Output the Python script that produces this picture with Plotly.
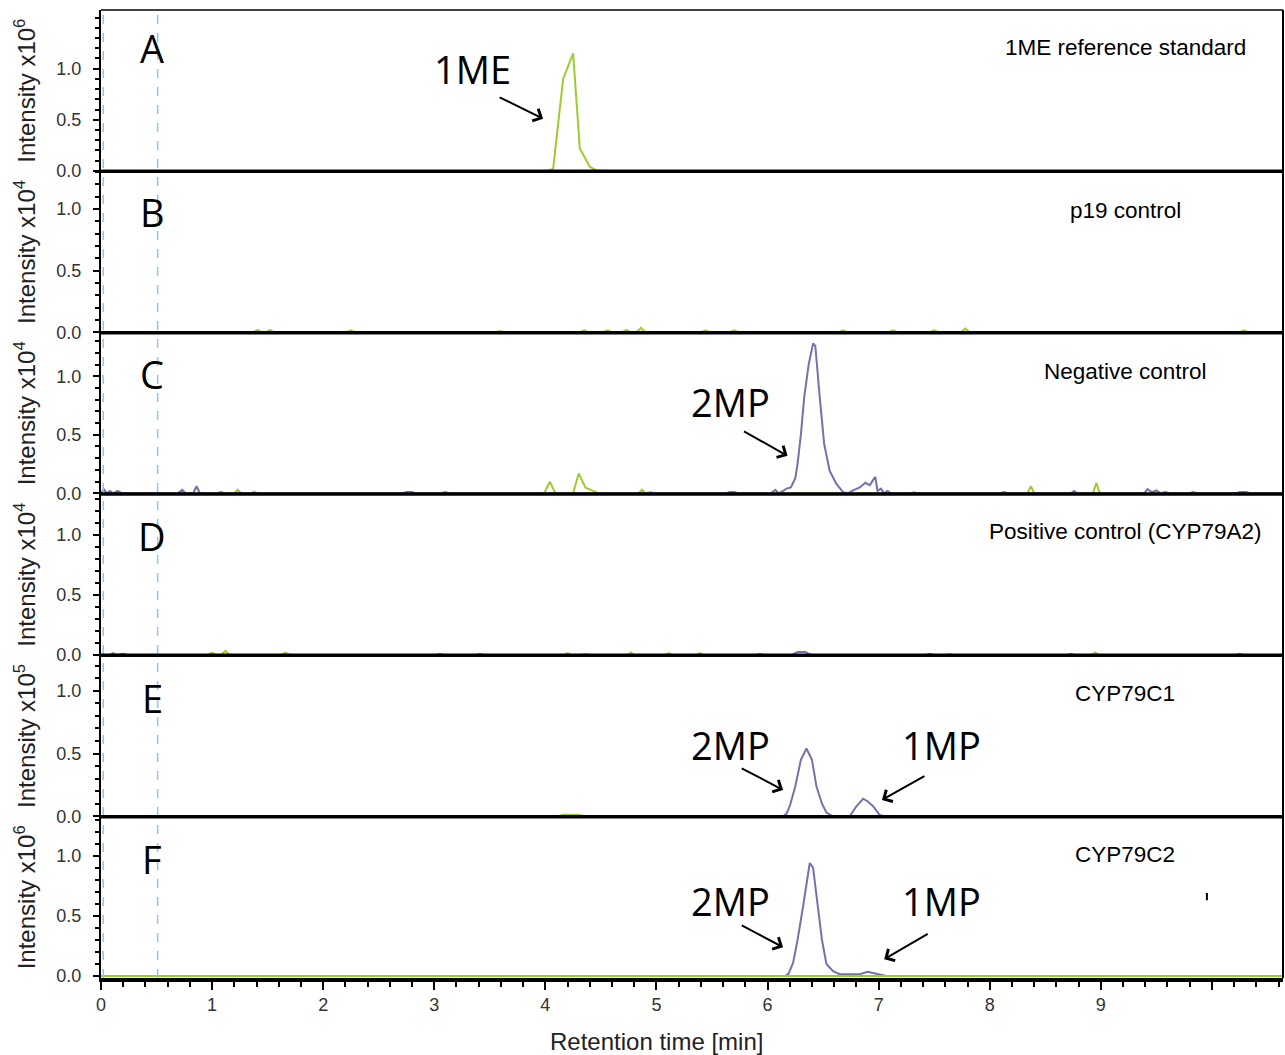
import plotly.graph_objects as go

X_MAX = 10.64
GREEN = "#9dcc2e"
BLUE = "#7272ae"

# ---- data (retention time [min], scaled intensity) ----
A_green = [(0, 0), (4.02, 0), (4.07, 0.02), (4.16, 0.90), (4.25, 1.15), (4.31, 0.22),
           (4.40, 0.04), (4.46, 0.005), (4.56, 0), (10.64, 0)]

B_green = [(0, 0), (1.37, 0), (1.41, 0.02), (1.45, 0), (1.49, 0), (1.52, 0.02), (1.56, 0),
           (2.21, 0), (2.25, 0.015), (2.29, 0), (3.55, 0), (3.59, 0.01), (3.63, 0),
           (4.31, 0), (4.35, 0.015), (4.39, 0), (4.52, 0), (4.56, 0.015), (4.60, 0),
           (4.69, 0), (4.73, 0.02), (4.77, 0), (4.82, 0), (4.86, 0.035), (4.90, 0),
           (5.40, 0), (5.44, 0.015), (5.48, 0), (5.66, 0), (5.70, 0.015), (5.74, 0),
           (6.64, 0), (6.68, 0.015), (6.72, 0), (7.09, 0), (7.13, 0.015), (7.17, 0),
           (7.46, 0), (7.50, 0.015), (7.54, 0), (7.74, 0), (7.78, 0.03), (7.82, 0),
           (10.25, 0), (10.29, 0.015), (10.33, 0), (10.64, 0)]

C_blue = [(0, 0), (0.03, 0.03), (0.05, 0), (0.08, 0.02), (0.11, 0), (0.15, 0.02), (0.19, 0),
          (0.70, 0), (0.73, 0.03), (0.76, 0), (0.83, 0), (0.86, 0.06), (0.89, 0),
          (1.05, 0), (1.08, 0.01), (1.11, 0),
          (2.72, 0), (2.75, 0.012), (2.80, 0.012), (2.83, 0),
          (3.07, 0), (3.10, 0.01), (3.13, 0),
          (5.63, 0), (5.66, 0.012), (5.70, 0.012), (5.73, 0),
          (6.03, 0), (6.07, 0.03), (6.10, 0), (6.14, 0.02), (6.17, 0.04), (6.21, 0.05),
          (6.25, 0.13), (6.27, 0.25), (6.30, 0.50), (6.33, 0.82), (6.37, 1.10), (6.41, 1.28),
          (6.43, 1.26), (6.47, 0.82), (6.51, 0.42), (6.56, 0.19), (6.62, 0.08), (6.68, 0.01),
          (6.72, 0), (6.78, 0.03), (6.83, 0.05), (6.88, 0.09), (6.92, 0.07), (6.97, 0.14),
          (6.99, 0.02), (7.02, 0.04), (7.05, 0), (7.08, 0.02), (7.11, 0),
          (8.10, 0), (8.13, 0.01), (8.16, 0), (8.73, 0), (8.76, 0.02), (8.79, 0),
          (9.39, 0), (9.42, 0.035), (9.46, 0.01), (9.50, 0.025), (9.54, 0), (9.58, 0.01), (9.62, 0),
          (9.80, 0), (9.83, 0.01), (9.86, 0),
          (10.22, 0), (10.25, 0.012), (10.31, 0.012), (10.34, 0), (10.64, 0)]

C_green = [(0, 0), (0.02, 0.03), (0.05, 0), (0.68, 0), (0.71, 0.015), (0.74, 0),
           (1.20, 0), (1.23, 0.03), (1.26, 0), (1.35, 0), (1.38, 0.015), (1.41, 0),
           (3.99, 0), (4.04, 0.10), (4.09, 0), (4.25, 0), (4.30, 0.17), (4.36, 0.05),
           (4.43, 0.02), (4.48, 0), (4.84, 0), (4.87, 0.03), (4.90, 0), (4.95, 0.01), (4.98, 0),
           (7.29, 0), (7.32, 0.01), (7.35, 0), (8.34, 0), (8.37, 0.06), (8.40, 0),
           (8.93, 0), (8.96, 0.09), (8.99, 0), (10.64, 0)]

D_blue = [(0, 0), (0.08, 0), (0.11, 0.015), (0.14, 0), (0.20, 0.01), (0.23, 0),
          (3.02, 0), (3.05, 0.01), (3.08, 0), (3.38, 0), (3.41, 0.01), (3.44, 0),
          (5.90, 0), (5.93, 0.01), (5.96, 0), (6.22, 0), (6.27, 0.025), (6.34, 0.025), (6.39, 0),
          (7.43, 0), (7.46, 0.01), (7.49, 0), (8.70, 0), (8.73, 0.01), (8.76, 0),
          (10.22, 0), (10.25, 0.01), (10.28, 0), (10.64, 0)]

D_green = [(0, 0), (0.96, 0), (1.00, 0.02), (1.04, 0), (1.08, 0), (1.12, 0.035), (1.16, 0),
           (1.62, 0), (1.66, 0.02), (1.70, 0), (4.17, 0), (4.20, 0.015), (4.23, 0),
           (4.33, 0), (4.36, 0.01), (4.39, 0), (4.74, 0), (4.77, 0.02), (4.80, 0),
           (5.08, 0), (5.11, 0.015), (5.14, 0), (5.36, 0), (5.39, 0.015), (5.42, 0),
           (7.61, 0), (7.64, 0.01), (7.67, 0), (8.92, 0), (8.95, 0.02), (8.98, 0), (10.64, 0)]

E_green = [(0, 0), (4.12, 0), (4.16, 0.012), (4.30, 0.012), (4.34, 0), (10.64, 0)]

E_blue = [(0, 0), (6.14, 0), (6.17, 0.02), (6.20, 0.08), (6.25, 0.24), (6.30, 0.45),
          (6.35, 0.54), (6.40, 0.45), (6.44, 0.24), (6.49, 0.10), (6.53, 0.03), (6.59, 0),
          (6.74, 0), (6.80, 0.08), (6.86, 0.14), (6.90, 0.12), (6.95, 0.08), (7.01, 0.01),
          (7.05, 0), (10.64, 0)]

F_blue = [(6.16, 0), (6.19, 0.02), (6.23, 0.11), (6.27, 0.30), (6.32, 0.58), (6.38, 0.94),
          (6.41, 0.90), (6.45, 0.58), (6.49, 0.30), (6.53, 0.10), (6.59, 0.04), (6.65, 0.015),
          (6.83, 0.015), (6.90, 0.035), (6.95, 0.025), (7.01, 0.01), (7.07, 0)]

F_green = [(0, 0), (10.64, 0)]

panel_letters = ["A", "B", "C", "D", "E", "F"]
panel_titles = ["1ME reference standard", "p19 control", "Negative control",
                "Positive control (CYP79A2)", "CYP79C1", "CYP79C2"]
exponents = ["6", "4", "4", "4", "5", "6"]
y_ranges = [(-0.004, 1.574), (-0.003, 1.306), (-0.006, 1.373),
            (-0.003, 1.342), (-0.003, 1.283), (-0.016, 1.325)]
letter_y = [1.20, 0.98, 1.02, 0.99, 0.94, 0.97]
title_y = [1.21, 0.99, 1.04, 1.03, 0.98, 1.01]
y_tick_vals = [0, 0.5, 1.0]
y_tick_text = ["0.0", "0.5", "1.0"]
x_tick_vals = [0, 1, 2, 3, 4, 5, 6, 7, 8, 9, 10]
x_tick_text = ["0", "1", "2", "3", "4", "5", "6", "7", "8", "9", ""]

panel_traces = [
    [(A_green, GREEN)],
    [(B_green, GREEN)],
    [(C_green, GREEN), (C_blue, BLUE)],
    [(D_green, GREEN), (D_blue, BLUE)],
    [(E_green, GREEN), (E_blue, BLUE)],
    [(F_blue, BLUE), (F_green, GREEN)],
]

# compound labels: (panel index, text, x, y)
compound_labels = [(0, "1ME", 3.34, 1.00), (2, "2MP", 5.67, 0.78),
                   (4, "2MP", 5.67, 0.57), (4, "1MP", 7.57, 0.57),
                   (5, "2MP", 5.67, 0.62), (5, "1MP", 7.57, 0.62)]
# arrows: (panel index, head x, head y, tail x, tail y)  all in data units
arrows = [(0, 3.98, 0.51, 3.57, 0.73), (2, 6.18, 0.32, 5.77, 0.54),
          (4, 6.14, 0.21, 5.75, 0.39), (4, 7.03, 0.13, 7.43, 0.33),
          (5, 6.14, 0.24, 5.75, 0.43), (5, 7.05, 0.14, 7.46, 0.36)]
dashed_x = [0.02, 0.51]

fig = go.Figure()
n = 6
layout = {}
annotations = []
for i in range(n):
    suf = "" if i == 0 else str(i + 1)
    for data, color in panel_traces[i]:
        xs = [p[0] for p in data]
        ys = [p[1] for p in data]
        fig.add_trace(go.Scatter(x=xs, y=ys, mode="lines", xaxis="x" + suf, yaxis="y" + suf,
                                 line=dict(color=color, width=2), showlegend=False,
                                 hoverinfo="skip"))
    last = (i == n - 1)
    xa = dict(domain=[0, 1], anchor="y" + suf, range=[0, X_MAX], showgrid=False,
              zeroline=False, showline=last, linewidth=3.5, linecolor="black",
              showticklabels=last, ticks="outside" if last else "")
    if i > 0:
        xa["matches"] = "x"
    if last:
        xa.update(tickmode="array", tickvals=x_tick_vals, ticktext=x_tick_text,
                  ticklen=8, tickwidth=2, tickcolor="black",
                  tickfont=dict(family="Liberation Sans, Arial", size=18, color="#333"),
                  minor=dict(ticks="outside", tickmode="linear", tick0=0, dtick=0.2,
                             ticklen=5, tickwidth=1.5, tickcolor="black"))
    layout["xaxis" + suf] = xa
    top = 1 - i / n
    bot = 1 - (i + 1) / n
    layout["yaxis" + suf] = dict(
        domain=[bot, top], anchor="x" + suf, range=list(y_ranges[i]),
        showgrid=False, zeroline=False, showline=True, linewidth=2, linecolor="black",
        tickmode="array", tickvals=y_tick_vals, ticktext=y_tick_text,
        ticks="outside", ticklen=6, tickwidth=2, tickcolor="black",
        ticklabelstandoff=8,
        tickfont=dict(family="Liberation Sans, Arial", size=18, color="#333"),
        minor=dict(ticks="outside", tickmode="linear", tick0=0, dtick=0.1,
                   ticklen=4, tickwidth=1.5, tickcolor="black"))
    annotations.append(dict(text=panel_letters[i], xref="x" + suf, yref="y" + suf,
                            x=0.46, y=letter_y[i], showarrow=False,
                            font=dict(family="Open Sans", size=38, color="black")))
    annotations.append(dict(text=panel_titles[i], xref="x" + suf, yref="y" + suf,
                            x=9.22, y=title_y[i], showarrow=False,
                            font=dict(family="Liberation Sans, Arial", size=22.5, color="black")))
    annotations.append(dict(text="Intensity x10<sup>" + exponents[i] + "</sup>",
                            xref="paper", yref="y" + suf + " domain",
                            x=-0.0643, y=0.5, textangle=-90, showarrow=False,
                            xanchor="center", yanchor="middle",
                            font=dict(family="Liberation Sans, Arial", size=24, color="#222")))

for (pi, txt, lx, ly) in compound_labels:
    suf = "" if pi == 0 else str(pi + 1)
    annotations.append(dict(text=txt, xref="x" + suf, yref="y" + suf, x=lx, y=ly,
                            showarrow=False,
                            font=dict(family="Open Sans", size=38, color="black")))
for (pi, hx, hy, tx, ty) in arrows:
    suf = "" if pi == 0 else str(pi + 1)
    annotations.append(dict(text=".", xref="x" + suf, yref="y" + suf, x=hx, y=hy,
                            axref="x" + suf, ayref="y" + suf, ax=tx, ay=ty,
                            showarrow=True, arrowhead=4, arrowsize=1.3,
                            arrowwidth=2, arrowcolor="black", standoff=0,
                            font=dict(size=4, color="rgba(0,0,0,0)")))

annotations.append(dict(text="Retention time [min]", xref="x6", yref="paper",
                        x=5.0, y=-0.066, showarrow=False, xanchor="center", yanchor="middle",
                        font=dict(family="Liberation Sans, Arial", size=24, color="#222")))

shapes = []
for dx in dashed_x:
    shapes.append(dict(type="line", xref="x", yref="paper", x0=dx, x1=dx, y0=0, y1=1,
                       line=dict(color="#8cc4fa", width=1.5, dash="dash")))
# thick separators between panels (drawn above the traces)
for k in range(1, n):
    shapes.append(dict(type="line", xref="paper", yref="paper", x0=0, x1=1,
                       y0=k / n, y1=k / n, line=dict(color="black", width=3.5)))
shapes.append(dict(type="line", xref="paper", yref="paper", x0=0, x1=1, y0=1, y1=1,
                   line=dict(color="black", width=1.5)))
shapes.append(dict(type="line", xref="paper", yref="paper", x0=1, x1=1, y0=0, y1=1,
                   line=dict(color="black", width=2)))
# small stray mark in panel F
shapes.append(dict(type="line", xref="x6", yref="y6", x0=9.955, x1=9.955, y0=0.63, y1=0.69,
                   line=dict(color="black", width=2)))

fig.update_layout(
    width=1285, height=1055,
    margin=dict(l=101, r=2, t=10, b=77),
    paper_bgcolor="white", plot_bgcolor="white",
    annotations=annotations, shapes=shapes,
    **layout)

fig.write_html("out.html")
